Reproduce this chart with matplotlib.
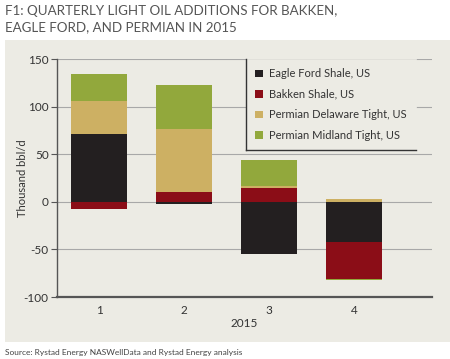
import matplotlib
matplotlib.use("Agg")
import matplotlib.pyplot as plt
import numpy as np
from matplotlib.patches import Rectangle
from matplotlib.lines import Line2D

quarters = ["1", "2", "3", "4"]
series_names = ["Eagle Ford Shale, US", "Bakken Shale, US",
                "Permian Delaware Tight, US", "Permian Midland Tight, US"]
eagle_ford = [71, -2.5, -55, -42.6]
bakken = [-8, 10, 14.7, -38.4]
delaware = [35, 66, 2, 2.8]
midland = [28, 47, 27, -0.8]
colors = ["#231F20", "#8B0D17", "#CDB063", "#92A83C"]

plt.rcParams['font.family'] = ['Lato', 'DejaVu Sans']

fig = plt.figure(figsize=(4.5, 3.59), dpi=100)
fig.patch.set_facecolor("white")
fig.patches.append(Rectangle((5/450, 1-342/359), 445/450, 302/359,
                             transform=fig.transFigure, facecolor="#ECEBE4",
                             edgecolor="none", zorder=-10))

ax = fig.add_axes([57/450, 1-297/359, 375/450, 238/359])
ax.set_facecolor("none")

x = np.arange(1, 5)
pos_base = np.zeros(4)
neg_base = np.zeros(4)
for vals, c, name in zip([eagle_ford, bakken, delaware, midland], colors, series_names):
    v = np.array(vals, dtype=float)
    bottoms = np.where(v >= 0, pos_base, neg_base)
    ax.bar(x, v, width=0.66, bottom=bottoms, color=c, label=name, zorder=3,
           linewidth=0)
    pos_base = pos_base + np.where(v >= 0, v, 0)
    neg_base = neg_base + np.where(v < 0, v, 0)

ax.set_xlim(0.5, 4.92)
ax.set_ylim(-100, 150)
ax.set_yticks([-100, -50, 0, 50, 100, 150])
ax.set_yticklabels(["-100", "-50", "0", "50", "100", "150"])
ax.set_xticks(x)
ax.set_xticklabels(quarters)
ax.tick_params(axis='x', length=0, pad=6, labelsize=8.5, colors="#333333")
ax.tick_params(axis='y', length=4, width=0.8, color="#555555", labelsize=8.5,
               labelcolor="#333333", pad=2)
ax.yaxis.grid(True, color="#A8A8A8", linewidth=0.8, zorder=1)
ax.set_axisbelow(True)
for s in ["top", "right"]:
    ax.spines[s].set_visible(False)
ax.spines["left"].set_color("#555555")
ax.spines["left"].set_linewidth(1.0)
ax.spines["bottom"].set_color("#555555")
ax.spines["bottom"].set_linewidth(1.6)

ax.set_ylabel("Thousand bbl/d", fontsize=8, color="#333333")
ax.yaxis.set_label_coords(-29/375, 0.5)
ax.set_xlabel("2015", fontsize=8.5, color="#333333", labelpad=1)

leg = ax.legend(loc="upper left", bbox_to_anchor=(189/375, 1.0), fontsize=8,
                frameon=True, fancybox=False, handlelength=0.7, handleheight=0.7,
                handletextpad=0.5, labelspacing=0.85, borderpad=0.85,
                borderaxespad=0)
leg.get_frame().set_edgecolor("#ECEBE4")
leg.get_frame().set_facecolor("#ECEBE4")
leg.get_frame().set_linewidth(0.5)
leg.get_frame().set_alpha(1)
for t in leg.get_texts():
    t.set_color("#333333")

fig.canvas.draw()
bb = leg.get_window_extent().transformed(fig.transFigure.inverted())
x0, y0 = bb.x0 + 0.3/450, bb.y0 + 0.3/359
fig.add_artist(Line2D([x0, x0], [y0, bb.y1], transform=fig.transFigure,
                      color="#333333", linewidth=1.0, zorder=10))
fig.add_artist(Line2D([x0, bb.x1], [y0, y0], transform=fig.transFigure,
                      color="#333333", linewidth=1.0, zorder=10))

fig.text(5/450, 1-11/359, "F1: QUARTERLY LIGHT OIL ADDITIONS FOR BAKKEN,",
         fontsize=9.6, color="#555555", va="center", ha="left")
fig.text(5/450, 1-27/359, "EAGLE FORD, AND PERMIAN IN 2015",
         fontsize=9.6, color="#555555", va="center", ha="left")
fig.text(5/450, 1-352/359, "Source: Rystad Energy NASWellData and Rystad Energy analysis",
         fontsize=6, color="#444444", va="center", ha="left")

fig.savefig("out.png", dpi=100)
